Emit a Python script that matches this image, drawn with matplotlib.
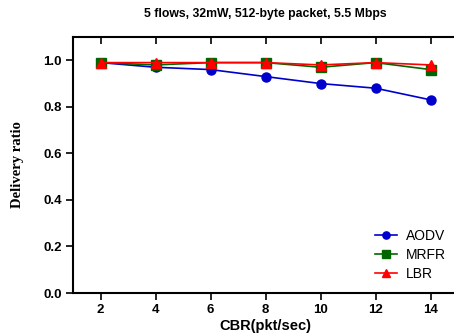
import matplotlib
matplotlib.use("Agg")
import matplotlib.pyplot as plt

cbr = [2, 4, 6, 8, 10, 12, 14]
aodv = [0.99, 0.97, 0.96, 0.93, 0.90, 0.88, 0.83]
mrfr = [0.99, 0.98, 0.99, 0.99, 0.97, 0.99, 0.96]
lbr = [0.99, 0.99, 0.99, 0.99, 0.98, 0.99, 0.98]
yticks = [0.0, 0.2, 0.4, 0.6, 0.8, 1.0]

plt.rcParams["font.family"] = ["Liberation Sans", "DejaVu Sans"]

fig = plt.figure(figsize=(4.54, 3.36), dpi=100)
ax = fig.add_axes([73 / 454, 43 / 336, 385 / 454, 256 / 336])

ax.plot(cbr, aodv, color="#0000cc", marker="o", ms=6.5, lw=1.2, label="AODV")
ax.plot(cbr, mrfr, color="#006600", marker="s", ms=6.5, lw=1.2, label="MRFR")
ax.plot(cbr, lbr, color="#ff0000", marker="^", ms=7, lw=1.2, label="LBR")

ax.set_xlim(1, 15)
ax.set_ylim(0, 1.1)
ax.set_xticks(cbr)
ax.set_yticks(yticks)
ax.set_yticklabels([f"{v:.1f}" for v in yticks])
for lab in ax.get_xticklabels() + ax.get_yticklabels():
    lab.set_fontweight("bold")
ax.tick_params(labelsize=9.5, width=1.2, length=5, direction="out", pad=3)

for s in ["left", "bottom", "top"]:
    ax.spines[s].set_linewidth(1.5)
ax.spines["right"].set_visible(False)

top = ax.secondary_xaxis("top")
top.set_xticks(cbr)
top.tick_params(direction="in", length=5, width=1.2, labeltop=False)
top.spines["top"].set_visible(False)

ax.set_xlabel("CBR(pkt/sec)", fontsize=10.5, fontweight="bold", labelpad=2)
ax.set_ylabel("Delivery ratio", fontsize=10.5, fontweight="bold",
              family="Liberation Serif", labelpad=14)
fig.text(265 / 454, 0.957, "5 flows, 32mW, 512-byte packet, 5.5 Mbps",
         ha="center", va="center", fontsize=8.8, fontweight="bold")

ax.legend(loc="lower right", frameon=False, fontsize=10, handlelength=1.6,
          handletextpad=0.6, labelspacing=0.35, markerscale=0.8,
          bbox_to_anchor=(1.0, 0.0))

plt.savefig("out.png", dpi=100)
